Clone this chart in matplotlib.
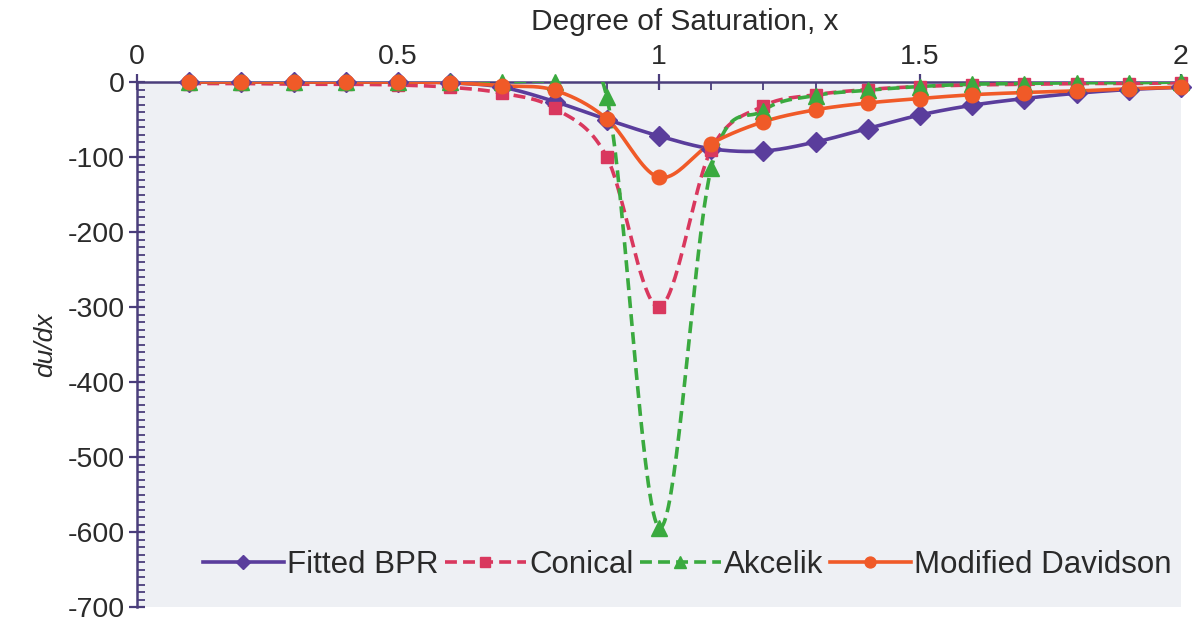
#!/usr/bin/env python3
"""du/dx versus degree of saturation for four volume-delay functions."""

import numpy as np
import matplotlib
matplotlib.use('Agg')
import matplotlib.pyplot as plt
from matplotlib.lines import Line2D
from matplotlib.ticker import MultipleLocator

plt.rcParams['font.family'] = ['Liberation Sans', 'DejaVu Sans']
plt.rcParams['axes.unicode_minus'] = False

x = [0.1, 0.2, 0.3, 0.4, 0.5, 0.6, 0.7, 0.8, 0.9, 1.0,
     1.1, 1.2, 1.3, 1.4, 1.5, 1.6, 1.7, 1.8, 1.9, 2.0]

fitted_bpr = [0, 0, 0, 0, 0, -1, -7, -26, -50, -72,
              -89, -92, -80, -62, -44, -31, -22, -15, -10, -7]
conical = [-2, -2, -3, -3, -4, -7, -15, -35, -100, -300,
           -90, -32, -17, -10, -6, -4, -3, -2, -2, -1]
akcelik = [0, 0, 0, 0, 0, 0, 0, 0, -20, -594,
           -115, -38, -18, -11, -6, -3, -2, -1, -1, 0]
mod_davidson = [0, 0, 0, 0, 0, -1, -5, -11, -49, -127,
                -82, -53, -37, -28, -22, -17, -14, -12, -9, -7]

labels = ['Fitted BPR', 'Conical', 'Akcelik', 'Modified Davidson']

SX, SY = 522.0, 0.75  # rough px per data unit, so smoothing works in screen space


def smooth(xs, ys, n=40):
    """Catmull-Rom style Bezier path through the points (like a spreadsheet smoothed line)."""
    p = np.column_stack([np.asarray(xs) * SX, np.asarray(ys) * SY])
    out = []
    for i in range(len(p) - 1):
        p0, p1 = p[i], p[i + 1]
        pm = p[i - 1] if i > 0 else p0
        pp = p[i + 2] if i + 2 < len(p) else p1
        c1 = p0 + (p1 - pm) / 6
        c2 = p1 - (pp - p0) / 6
        t = np.linspace(0, 1, n)[:, None]
        seg = ((1 - t) ** 3) * p0 + 3 * ((1 - t) ** 2) * t * c1 + 3 * (1 - t) * t ** 2 * c2 + t ** 3 * p1
        out.append(seg if i == 0 else seg[1:])
    out = np.vstack(out)
    return out[:, 0] / SX, out[:, 1] / SY


dash = (0, (3.3, 1.7))
styles = [
    dict(color='#5a3d9c', ls='-', marker='D', ms=10),
    dict(color='#d9385e', ls=dash, marker='s', ms=9),
    dict(color='#3aaa3f', ls=dash, marker='^', ms=11.5),
    dict(color='#f05a28', ls='-', marker='o', ms=10.5),
]

fig = plt.figure(figsize=(11.99, 6.22), dpi=100)
ax = fig.add_axes([137 / 1199, 1 - 607 / 622, 1044 / 1199, 525 / 622])
ax.set_facecolor('#eef0f4')

series = [fitted_bpr, conical, akcelik, mod_davidson]
handles = []
for ys, st, lab in zip(series, styles, labels):
    sx, sy = smooth(x, ys)
    ax.plot(sx, sy, color=st['color'], ls=st['ls'], lw=2.6, clip_on=True, zorder=3)
    ax.plot(x, ys, ls='none', marker=st['marker'], ms=st['ms'], color=st['color'],
            mec=st['color'], clip_on=False, zorder=4)
    handles.append(Line2D([], [], color=st['color'], ls=st['ls'], lw=2.6,
                          marker=st['marker'], ms=st['ms'] * 0.75))

ax.set_xlim(0, 2)
ax.set_ylim(-700, 0)

axis_col = '#4b3e7c'
for side in ['right', 'bottom']:
    ax.spines[side].set_visible(False)
for side in ['left', 'top']:
    ax.spines[side].set_color(axis_col)
    ax.spines[side].set_linewidth(1.8)

ax.xaxis.tick_top()
ax.xaxis.set_label_position('top')
ax.xaxis.set_minor_locator(MultipleLocator(0.1))
ax.yaxis.set_major_locator(MultipleLocator(100))
ax.yaxis.set_minor_locator(MultipleLocator(10))
ax.set_xticks([0, 0.5, 1, 1.5, 2])
ax.set_xticklabels(['0', '0.5', '1', '1.5', '2'])

ax.tick_params(which='major', direction='inout', length=11, width=1.6, color=axis_col,
               labelsize=20.5, labelcolor='#2a2a2a', pad=3)
ax.tick_params(which='minor', direction='in', length=6, width=1.3, color=axis_col)

ax.set_xlabel('Degree of Saturation, x', fontsize=21.5, color='#2a2a2a')
ax.xaxis.set_label_coords(0.525, 1.1)
ax.set_ylabel('du/dx', fontsize=19, style='italic', color='#2a2a2a', labelpad=8)

ax.legend(handles, labels, loc='center', bbox_to_anchor=(0.527, 0.08), ncol=4,
          frameon=False, fontsize=22.5, handlelength=2.6, handletextpad=0.1,
          columnspacing=0.2, borderpad=0.1, labelcolor='#2a2a2a')

fig.savefig('out.png', dpi=100, facecolor='white')
